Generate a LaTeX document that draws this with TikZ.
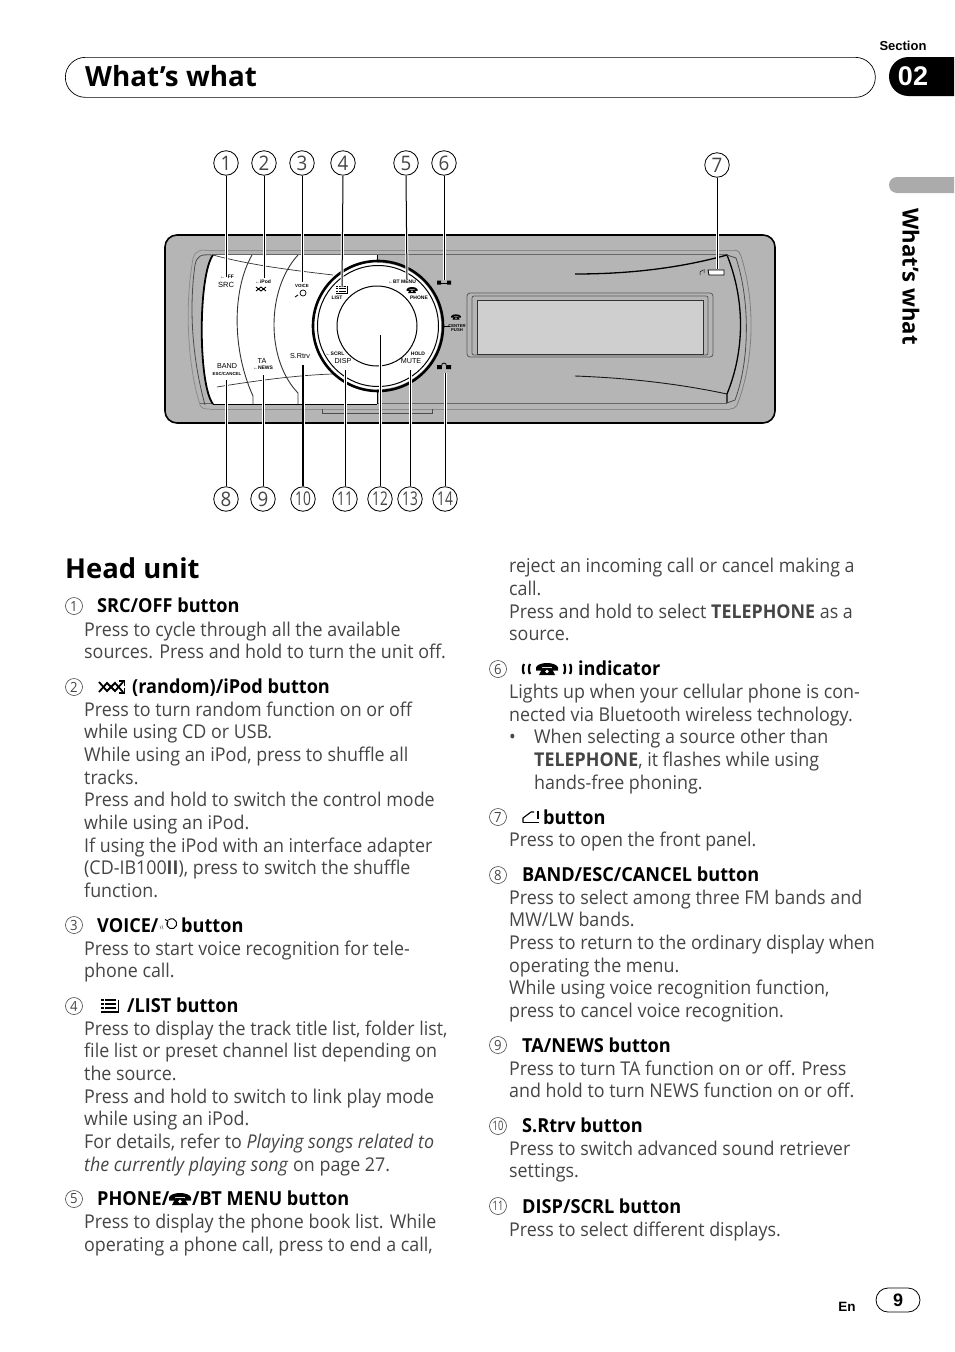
\documentclass[tikz,border=0pt]{standalone}
\usepackage{fontspec}
\setmainfont{Open Sans}[FakeStretch=0.94]
\newfontfamily\widefont{Open Sans}
\newfontfamily\narrowfont{Open Sans}[FakeStretch=0.72]
\newfontfamily\devfont{Liberation Sans}
\newcounter{tln}
\definecolor{bodyc}{gray}{0.27}
\definecolor{devgray}{gray}{0.71}
\tikzset{
  x=1pt,y=-1pt,
  bodyline/.style={anchor=base west,inner sep=0pt,text=bodyc,font=\fontsize{19.0}{23}\selectfont},
  headline/.style={anchor=base west,inner sep=0pt,text=black,font=\fontsize{19.3}{23}\selectfont\bfseries},
  smallnum/.style={circle,draw=bodyc,line width=0.6pt,minimum size=17pt,inner sep=0pt,text=bodyc,font=\fontsize{14}{14}\selectfont},
  bignum/.style={circle,draw=black,line width=0.8pt,minimum size=24.5pt,inner sep=0pt,text=bodyc,font=\fontsize{20}{20}\selectfont},
  leader/.style={preaction={draw=white,line width=3pt},draw=black,line width=1pt},
  devtext/.style={inner sep=0pt,text=black,font=\devfont\bfseries\fontsize{5}{5}\selectfont},
  devbig/.style={inner sep=0pt,text=black,font=\devfont\fontsize{7.2}{7.2}\selectfont},
  devline/.style={draw=black!70,line width=0.8pt},
  phoneicon/.pic={
    \fill[black] (-11,-1.5) .. controls (-9,-7.5) and (9,-7.5) .. (11,-1.5) -- (11,1.5) -- (5,1.5) -- (5,-2) -- (-5,-2) -- (-5,1.5) -- (-11,1.5) -- cycle;
    \fill[black] (-4.5,-1) -- (4.5,-1) -- (8,6) -- (-8,6) -- cycle;
    \fill[white] (0,2.5) circle (1.8);
  },
  randicon/.pic={
    \draw[black,line width=1.8pt] (-13,-5) -- (-5,4) -- (3,-4) -- (11,5);
    \draw[black,line width=1.8pt] (-13,5) -- (-5,-4) -- (3,4) -- (11,-5);
    \draw[black,line width=1.5pt] (7,-6) -- (12.5,-6) -- (12.5,-1);
    \draw[black,line width=1.5pt] (7,6) -- (12.5,6) -- (12.5,1);
  },
  listicon/.pic={
    \foreach \yy in {-6,-2,2} {\fill[black] (-9,\yy-0.8) rectangle (-6.5,\yy+0.8); \fill[black] (-5,\yy-0.8) rectangle (6,\yy+0.8);}
    \fill[black] (-9,5.4) rectangle (9,7);
    \fill[black] (7.6,-6) rectangle (9,7);
  },
  voiceicon/.pic={
    \draw[black,line width=1pt] (-1,-3) arc (200:-130:5);
    \draw[black,line width=1pt] (-3,-5.5) -- (0,-4) -- (-1,0);
    \draw[black!60,line width=0.6pt] (-8,1) -- (-7,4) (-6,0) -- (-5,4);
  },
  openicon/.pic={
    \draw[black,line width=1.3pt] (-8,5.5) -- (8,5.5);
    \draw[black,line width=1.1pt] (-8,5.5) -- (-8,1) -- (0,-5) -- (3,-5);
    \fill[black] (6,-6) rectangle (8,2);
  },
}
\newcommand{\tl}[4][bodyline]{\stepcounter{tln}\node[#1] (t\arabic{tln}) at (#2,#3) {#4};}
\newcommand{\bl}[2]{\tl{84}{#1}{#2}}
\newcommand{\hl}[3]{\tl[headline]{#1}{#2}{#3}}
\newcommand{\br}[2]{\tl{509}{#1}{#2}}
\begin{document}
\begin{tikzpicture}
\useasboundingbox (0,0) rectangle (954,1352);
\fill[white] (0,0) rectangle (954,1352);
% header
\node[draw=black,line width=0.7pt,rounded corners=20pt,minimum width=810pt,minimum height=40pt,anchor=north west,inner sep=0pt] (hdrbox) at (65,57) {};
\node[anchor=base west,inner sep=0pt,font=\widefont\fontsize{27.8}{30}\selectfont\bfseries] (hdrtext) at (85,86) {What’s what};
\node[inner sep=0pt,font=\devfont\fontsize{13}{14}\selectfont\bfseries] (secword) at (903,46) {Section};
\fill[black] (954,57) -- (908.5,57) arc (-90:-270:19.5) -- (954,96) -- cycle;
\node[inner sep=0pt,text=white,font=\devfont\fontsize{27}{30}\selectfont\bfseries] (secnum) at (913,76) {02};
\fill[black!33] (954,177) -- (897,177) arc (-90:-270:8) -- (954,193) -- cycle;
\node[rotate=-90,inner sep=0pt,font=\widefont\fontsize{22.1}{24}\selectfont\bfseries] (sidetext) at (911,276.5) {What’s what};
% device body
\draw[fill=devgray,draw=black,line width=1.6pt,rounded corners=12pt] (165,235) rectangle (775,423);
% inner frame
\draw[draw=black!45,line width=0.8pt] (205,250) -- (735,250);
\draw[black!60,line width=1.6pt] (213,254.5) -- (727,254.5);
\draw[draw=black!60,line width=0.8pt] (200,403) -- (727,403);
\draw[draw=black!45,line width=0.8pt] (210,409) -- (730,409);
\draw[devline] (322,409) -- (322,413) -- (432,413) -- (432,409);
% left curves
\draw[devline] (213,255) .. controls (200,254) and (197,256) .. (195,265) .. controls (190,300) and (190,350) .. (205,405);
\draw[draw=black!45,line width=0.8pt] (205,250) .. controls (195,250) and (193,255) .. (192,265) .. controls (186,300) and (186,360) .. (200,405) .. controls (202,409) and (205,409) .. (210,409);
% white face
\fill[white] (213,255) -- (377,255) -- (377,404) -- (213,404) .. controls (198,385) and (198,275) .. (213,255) -- cycle;
\draw[black,line width=1.8pt] (213,255) .. controls (198,275) and (198,385) .. (213,404);
\draw[black!80,line width=0.7pt] (213,255) .. controls (250,265) and (290,270) .. (333,275);
\draw[black!80,line width=0.7pt] (217,387) .. controls (260,380) and (300,375) .. (333,374);
\draw[black!80,line width=0.9pt] (252,255) .. controls (232,290) and (232,350) .. (253,396) -- (253,404);
\draw[black!80,line width=0.9pt] (298,255) .. controls (266,290) and (266,360) .. (298,393) -- (298,404);
\draw[black,line width=1pt] (213,404) -- (377,404);
% dial
\draw[black,line width=0.8pt] (377,255) -- (377,262);
\draw[black,line width=0.8pt] (377,390) -- (377,404);
\fill[white] (378,326) circle (63);
\draw[black,line width=2.6pt] (378,326) circle (65);
\draw[black,line width=1pt] (378,326) circle (60.5);
\draw[black,line width=1pt] (377,326) circle (40);
\draw[black,line width=0.8pt] (443,326) -- (450,326);
% right curves
\draw[black,line width=1.3pt] (575,274) .. controls (630,274) and (680,268) .. (727,255) .. controls (745,300) and (745,350) .. (727,394) -- (727,403);
\draw[black!90,line width=0.9pt] (575,376) .. controls (630,378) and (680,384) .. (727,394);
\draw[devline] (727,255) -- (736,258) .. controls (750,300) and (750,360) .. (735,400) -- (727,403);
\draw[black!50,line width=0.8pt] (735,250) .. controls (739,251) and (740,253) .. (741,256) .. controls (755,300) and (755,360) .. (737,405) .. controls (735,408) and (733,409) .. (730,409);
% display
\draw[black!65,line width=0.8pt,rounded corners=3pt] (467,293) rectangle (713,357);
\draw[black!65,line width=0.8pt,rounded corners=2pt] (472,296) rectangle (708,355);
\draw[fill=black!19,draw=black!80,line width=0.9pt] (477,300) rectangle (703,354);
% open button
\draw[fill=white,draw=black,line width=0.8pt] (708,270) -- (724,270) -- (724,275) -- (709,275) -- cycle;
\draw[black,line width=0.5pt] (700,275) -- (700,272) -- (703,270) (704,269) -- (704,273);
% device labels
\node[devtext] (dSRCa) at (227,277) {←\ \ FF};
\node[devtext,font=\devfont\fontsize{7.5}{7.5}\selectfont] (dSRC) at (226,285) {SRC};
\node[devtext] (dRnd) at (263,282) {←iPod};
\draw[black,line width=0.9pt] (256,287) -- (261,291) -- (266,287) (256,291) -- (261,287) -- (266,291);
\node[devtext,font=\devfont\bfseries\fontsize{4.4}{4.4}\selectfont] (dVoice) at (302,286) {VOICE};
\draw[black,line width=0.7pt] (303,293) circle (3);
\draw[black,line width=0.9pt] (295,297) -- (298,295);
\pic[scale=0.62] at (342,290) {listicon};
\node[devtext] (dList) at (337,298) {LIST};
\node[devtext] (dBt) at (402,282) {←BT MENU};
\pic[scale=0.5] at (412,290) {phoneicon};
\node[devtext] (dPhone) at (419,298) {PHONE};
\pic[scale=0.45] at (456,317) {phoneicon};
\node[devtext,font=\devfont\bfseries\fontsize{4.2}{4.4}\selectfont,align=center] (dCenter) at (457,328) {CENTER\\PUSH};
\node[devbig] (dBand) at (227,366) {BAND};
\node[devtext,font=\devfont\bfseries\fontsize{4.4}{4.4}\selectfont] (dEsc) at (227,374) {ESC/CANCEL};
\node[devbig] (dTA) at (262,361) {TA};
\node[devtext] (dNews) at (263,368) {←NEWS};
\node[devbig] (dRtrv) at (300,356) {S.Rtrv};
\node[devtext] (dScrl) at (335,354) {←SCRL};
\node[devbig] (dDisp) at (343,361) {DISP};
\node[devtext] (dHold) at (418,354) {HOLD};
\node[devbig] (dMute) at (411,361) {MUTE};
\fill[black] (437,280.5) rectangle (441,284.5) (447,280.5) rectangle (451,284.5);
\draw[black,line width=0.7pt] (441,283) -- (447,283);
\fill[black] (437,365) rectangle (441,369) (447,365) rectangle (451,369);
\draw[black,line width=0.8pt] (441.5,369) -- (441.5,366) .. controls (441.5,362) and (446.5,362) .. (446.5,366) -- (446.5,369);
% callouts
\node[bignum] (c1) at (226,163) {1};
\node[bignum] (c2) at (264,163) {2};
\node[bignum] (c3) at (302,163) {3};
\node[bignum] (c4) at (343,163) {4};
\node[bignum] (c5) at (406,163) {5};
\node[bignum] (c6) at (444,163) {6};
\node[bignum] (c7) at (717,165) {7};
\node[bignum] (c8) at (226,499) {8};
\node[bignum] (c9) at (263,499) {9};
\node[bignum,font=\narrowfont\fontsize{19}{19}\selectfont] (c10) at (303,499) {10};
\node[bignum,font=\narrowfont\fontsize{19}{19}\selectfont] (c11) at (345,499) {11};
\node[bignum,font=\narrowfont\fontsize{19}{19}\selectfont] (c12) at (380,499) {12};
\node[bignum,font=\narrowfont\fontsize{19}{19}\selectfont] (c13) at (410,499) {13};
\node[bignum,font=\narrowfont\fontsize{19}{19}\selectfont] (c14) at (445,499) {14};
\coordinate (e1) at (226,277); \coordinate (e2) at (264,278); \coordinate (e3) at (302,282);
\coordinate (e4) at (342,287); \coordinate (e5) at (407,280); \coordinate (e6) at (444,280);
\coordinate (e7) at (717,269); \coordinate (e8) at (226,380); \coordinate (e9) at (263,375);
\coordinate (e10) at (303,365); \coordinate (e11) at (345,370); \coordinate (e12) at (380,335);
\coordinate (e13) at (410,370); \coordinate (e14) at (445,373);
\foreach \i in {1,...,7} {\draw[leader] (c\i.south) -- (e\i);}
\foreach \i in {8,9,11,12,13,14} {\draw[leader] (c\i.north) -- (e\i);}
\draw[leader,line width=1.6pt] (c10.north) -- (e10);
% heading
\node[anchor=base west,inner sep=0pt,font=\widefont\fontsize{27.4}{30}\selectfont\bfseries] (headunit) at (65,578) {Head unit};
% small numbers
\foreach \n/\xx/\yy in {1/74/606,2/74/687,3/74/925,4/74/1006,5/74/1199,6/498/669,7/498/817,8/498/875,9/498/1045}
  {\node[smallnum] (n\n) at (\xx,\yy) {\n};}
\foreach \n/\xx/\yy in {10/498/1126,11/498/1206}
  {\node[smallnum,font=\narrowfont\fontsize{13}{13}\selectfont] (n\n) at (\xx,\yy) {\n};}
% left column
\hl{97}{612}{SRC/OFF button}
\bl{636}{Press to cycle through all the available}
\bl{658}{sources. Press and hold to turn the unit off.}
\pic at (112,687) {randicon};
\hl{132}{693}{(random)/iPod button}
\bl{716}{Press to turn random function on or off}
\bl{738}{while using CD or USB.}
\bl{761}{While using an iPod, press to shuffle all}
\bl{784}{tracks.}
\bl{806}{Press and hold to switch the control mode}
\bl{829}{while using an iPod.}
\bl{852}{If using the iPod with an interface adapter}
\bl{874}{(CD-IB100\textbf{II}), press to switch the shuffle}
\bl{897}{function.}
\hl{97}{932}{VOICE/}
\pic at (168,925) {voiceicon};
\hl{181}{932}{button}
\bl{955}{Press to start voice recognition for tele-}
\bl{977}{phone call.}
\pic at (110,1006) {listicon};
\hl{127}{1012}{/LIST button}
\bl{1035}{Press to display the track title list, folder list,}
\bl{1057}{file list or preset channel list depending on}
\bl{1080}{the source.}
\bl{1103}{Press and hold to switch to link play mode}
\bl{1125}{while using an iPod.}
\bl{1148}{For details, refer to \textit{Playing songs related to}}
\bl{1171}{\textit{the currently playing song} on page 27.}
\hl{97}{1205}{PHONE/}
\pic at (180,1199) {phoneicon};
\hl{192}{1205}{/BT MENU button}
\bl{1228}{Press to display the phone book list. While}
\bl{1251}{operating a phone call, press to end a call,}
% right column
\br{572}{reject an incoming call or cancel making a}
\br{595}{call.}
\br{618}{Press and hold to select \textbf{TELEPHONE} as a}
\br{640}{source.}
\draw[black,line width=2.2pt] (524,664) .. controls (522.5,667) and (522.5,671) .. (524,674) (530,664) .. controls (528.5,667) and (528.5,671) .. (530,674);
\pic at (547,669) {phoneicon};
\draw[black,line width=2.2pt] (564,664) .. controls (565.5,667) and (565.5,671) .. (564,674) (570,664) .. controls (571.5,667) and (571.5,671) .. (570,674);
\hl{578}{675}{indicator}
\br{698}{Lights up when your cellular phone is con-}
\br{721}{nected via Bluetooth wireless technology.}
\br{743}{•}
\tl{534}{743}{When selecting a source other than}
\tl{534}{766}{\textbf{TELEPHONE}, it flashes while using}
\tl{534}{789}{hands-free phoning.}
\pic at (531,817) {openicon};
\hl{543}{824}{button}
\br{846}{Press to open the front panel.}
\hl{522}{881}{BAND/ESC/CANCEL button}
\br{904}{Press to select among three FM bands and}
\br{926}{MW/LW bands.}
\br{949}{Press to return to the ordinary display when}
\br{972}{operating the menu.}
\br{994}{While using voice recognition function,}
\br{1017}{press to cancel voice recognition.}
\hl{522}{1052}{TA/NEWS button}
\br{1075}{Press to turn TA function on or off. Press}
\br{1097}{and hold to turn NEWS function on or off.}
\hl{522}{1132}{S.Rtrv button}
\br{1155}{Press to switch advanced sound retriever}
\br{1177}{settings.}
\hl{522}{1213}{DISP/SCRL button}
\br{1236}{Press to select different displays.}
% footer
\node[inner sep=0pt,font=\devfont\fontsize{13.5}{14}\selectfont\bfseries] (enlabel) at (847,1307) {En};
\node[draw=black,line width=0.8pt,rounded corners=12pt,minimum width=44pt,minimum height=24pt,inner sep=0pt,font=\devfont\fontsize{18}{18}\selectfont\bfseries] (pagenum) at (898,1300) {9};
\end{tikzpicture}
\end{document}
